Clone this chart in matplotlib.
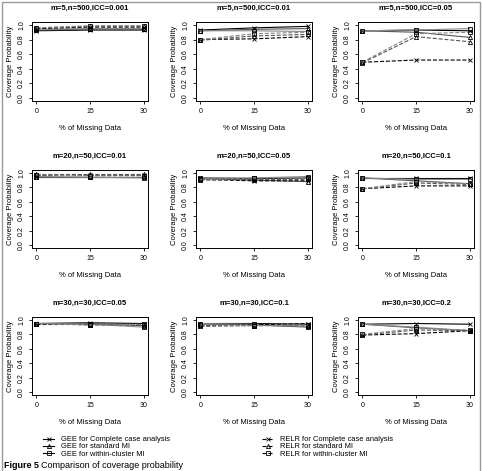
import numpy as np
import matplotlib
matplotlib.use("Agg")
import matplotlib.pyplot as plt
from matplotlib.lines import Line2D
from matplotlib.patches import Rectangle

# data: % missing on x, coverage probability per method
missing = [0, 15, 30]
titles = ["m=5,n=500,ICC=0.001", "m=5,n=500,ICC=0.01", "m=5,n=500,ICC=0.05",
          "m=20,n=50,ICC=0.01", "m=20,n=50,ICC=0.05", "m=20,n=50,ICC=0.1",
          "m=30,n=30,ICC=0.05", "m=30,n=30,ICC=0.1", "m=30,n=30,ICC=0.2"]

gee_cc = [[0.92, 0.93, 0.93], [0.93, 0.96, 0.98], [0.92, 0.93, 0.92],
          [0.94, 0.94, 0.94], [0.93, 0.92, 0.93], [0.93, 0.93, 0.93],
          [0.95, 0.96, 0.95], [0.95, 0.95, 0.94], [0.94, 0.95, 0.94]]
gee_std = [[0.93, 0.94, 0.94], [0.92, 0.94, 0.95], [0.92, 0.90, 0.83],
           [0.95, 0.95, 0.95], [0.92, 0.90, 0.88], [0.93, 0.89, 0.85],
           [0.95, 0.95, 0.92], [0.94, 0.93, 0.90], [0.94, 0.89, 0.85]]
gee_wc = [[0.94, 0.95, 0.95], [0.92, 0.92, 0.91], [0.92, 0.93, 0.95],
          [0.95, 0.94, 0.93], [0.93, 0.93, 0.95], [0.93, 0.91, 0.91],
          [0.95, 0.94, 0.90], [0.95, 0.94, 0.91], [0.94, 0.90, 0.85]]
relr_cc = [[0.95, 0.97, 0.97], [0.80, 0.81, 0.84], [0.49, 0.52, 0.52],
           [0.97, 0.97, 0.97], [0.91, 0.89, 0.89], [0.78, 0.82, 0.82],
           [0.95, 0.95, 0.95], [0.92, 0.93, 0.95], [0.79, 0.81, 0.85]]
relr_std = [[0.96, 0.98, 0.98], [0.79, 0.85, 0.87], [0.48, 0.84, 0.77],
            [0.98, 0.98, 0.98], [0.90, 0.91, 0.91], [0.78, 0.86, 0.84],
            [0.95, 0.93, 0.93], [0.91, 0.92, 0.92], [0.79, 0.86, 0.85]]
relr_wc = [[0.96, 0.99, 0.99], [0.80, 0.88, 0.90], [0.49, 0.88, 0.90],
           [0.97, 0.96, 0.96], [0.91, 0.93, 0.93], [0.78, 0.88, 0.85],
           [0.95, 0.93, 0.94], [0.93, 0.92, 0.93], [0.80, 0.88, 0.86]]

labels_gee = ["GEE for Complete case analysis", "GEE for standard MI", "GEE for within-cluster MI"]
labels_relr = ["RELR for Complete case analysis", "RELR for standard MI", "RELR for within-cluster MI"]

W, H = 482, 471
fig = plt.figure(figsize=(W / 100, H / 100), dpi=100)
plt.rcParams['font.family'] = ['Liberation Sans', 'DejaVu Sans']

col_x = [(32, 148), (196, 312), (358, 474)]
row_y = [(22, 101), (170, 248), (317, 395)]

styles = [("x", "black", "-"), ("^", "#555555", "-"), ("s", "#888888", "-"),
          ("x", "black", "--"), ("^", "#555555", "--"), ("s", "#888888", "--")]
series = [gee_cc, gee_std, gee_wc, relr_cc, relr_std, relr_wc]

for i in range(9):
    r, c = divmod(i, 3)
    x0, x1 = col_x[c]
    y0, y1 = row_y[r]
    ax = fig.add_axes([x0 / W, 1 - y1 / H, (x1 - x0) / W, (y1 - y0) / H])
    for s, (m, col, ls) in zip(series, styles):
        ax.plot(missing, s[i], linestyle=ls, color=col, lw=0.8, marker=m,
                markersize=3, markerfacecolor="none", markeredgecolor="black", markeredgewidth=0.6)
    ax.set_xlim(-1.2, 31.2)
    ax.set_ylim(-0.04, 1.04)
    ax.set_xticks(missing)
    ax.set_yticks([0, 0.2, 0.4, 0.6, 0.8, 1.0])
    ax.set_yticklabels(["0.0", "0.2", "0.4", "0.6", "0.8", "1.0"], rotation=90, va="center")
    ax.tick_params(labelsize=5, length=2.5, width=0.6, pad=2.5)
    for sp in ax.spines.values():
        sp.set_linewidth(0.7)
    ax.set_title(titles[i], fontsize=5.5, fontweight="bold", pad=9)
    ax.set_xlabel("% of Missing Data", fontsize=5.5, labelpad=7)
    ax.set_ylabel("Coverage Probability", fontsize=5.5, labelpad=3)

def handles(sty):
    return [Line2D([], [], linestyle=ls, color="black", lw=0.8, marker=m, markersize=3,
                   markerfacecolor="none", markeredgewidth=0.6) for m, col, ls in sty]

leg_kw = dict(frameon=False, fontsize=5.4, handlelength=1.5, handletextpad=0.9,
              labelspacing=0.0, borderaxespad=0, borderpad=0)
fig.legend(handles(styles[:3]), labels_gee, loc="upper left",
           bbox_to_anchor=(43 / W, 1 - 436 / H), **leg_kw)
fig.legend(handles(styles[3:]), labels_relr, loc="upper left",
           bbox_to_anchor=(262 / W, 1 - 436 / H), **leg_kw)

fig.text(4 / W, 1 - 466 / H, "Figure 5", fontsize=6.5, fontweight="bold", va="center")
fig.text(41 / W, 1 - 466 / H, "Comparison of coverage probability", fontsize=6.5, va="center")

fig.patches.append(Rectangle((2 / W, -0.1), 478 / W, 1 - 2 / H + 0.1, transform=fig.transFigure,
                             fill=False, edgecolor="#999999", lw=1.0))

fig.savefig("out.png", dpi=100)
